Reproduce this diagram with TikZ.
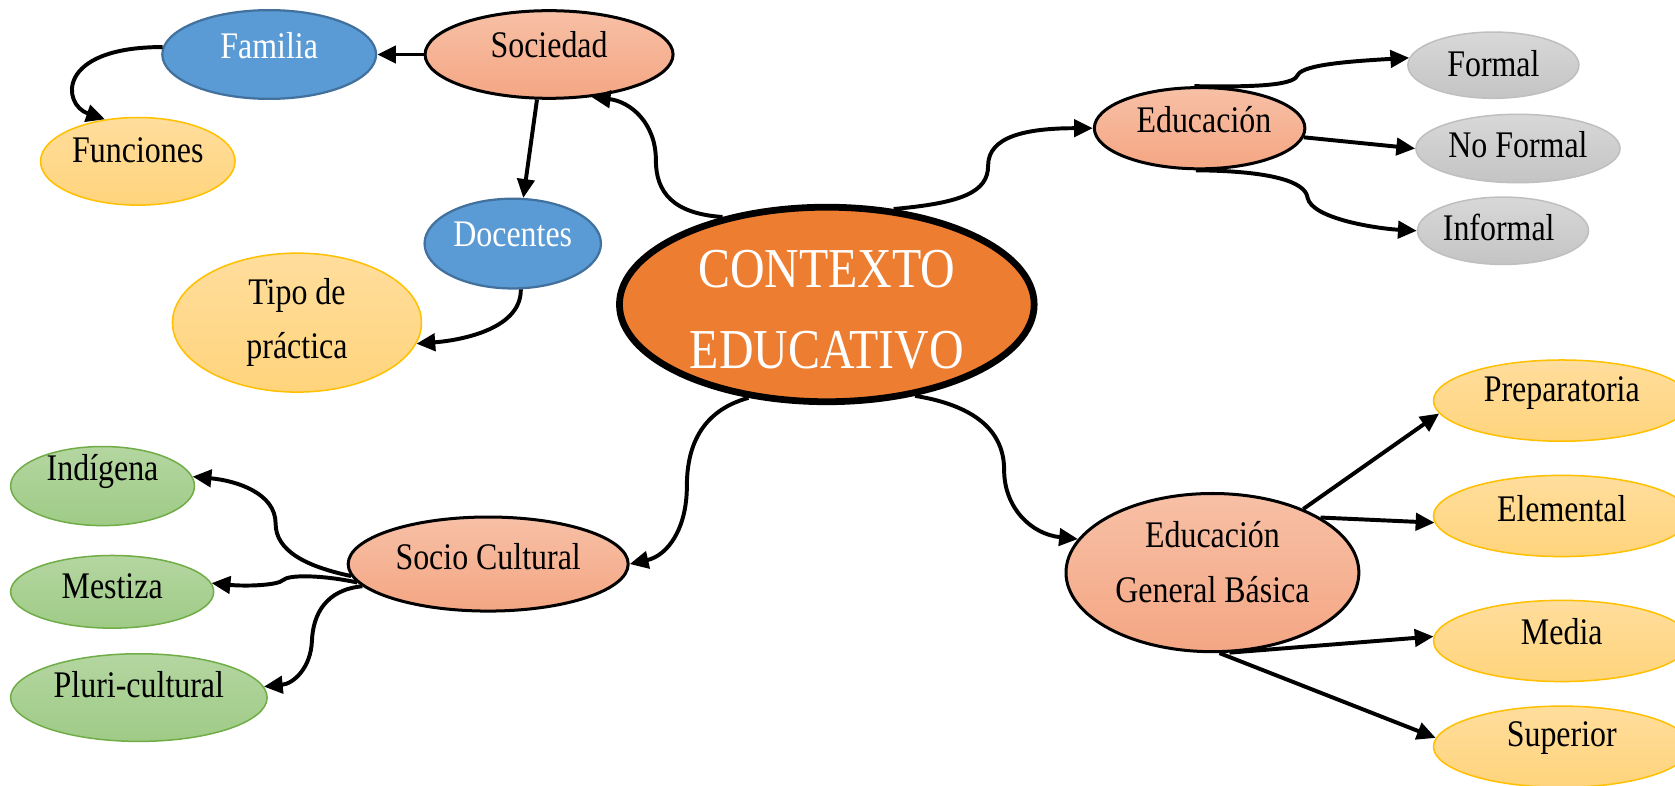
\documentclass[tikz,border=0pt]{standalone}
\usepackage{fontspec}
\setmainfont{Liberation Serif}[FakeStretch=0.85]
\usetikzlibrary{shapes.geometric,arrows.meta}
\definecolor{salTop}{HTML}{F7C0A6}
\definecolor{salBot}{HTML}{F4A683}
\definecolor{yelTop}{HTML}{FFDD9C}
\definecolor{yelBot}{HTML}{FFD47C}
\definecolor{yelLine}{HTML}{FFC000}
\definecolor{gryTop}{HTML}{D8D8D8}
\definecolor{gryBot}{HTML}{C4C4C4}
\definecolor{gryLine}{HTML}{BFBFBF}
\definecolor{grnTop}{HTML}{B4D6A1}
\definecolor{grnBot}{HTML}{9FCB86}
\definecolor{grnLine}{HTML}{70AD47}
\definecolor{bluFill}{HTML}{5B9BD5}
\definecolor{bluLine}{HTML}{41719C}
\definecolor{ctxFill}{HTML}{ED7D31}
\tikzset{
  base/.style={ellipse, inner sep=0pt},
  salm/.style={base, draw=black, line width=0.8pt, top color=salTop, bottom color=salBot},
  yelo/.style={base, draw=yelLine, line width=0.4pt, top color=yelTop, bottom color=yelBot},
  gray/.style={base, draw=gryLine, line width=0.4pt, top color=gryTop, bottom color=gryBot},
  gren/.style={base, draw=grnLine, line width=0.4pt, top color=grnTop, bottom color=grnBot},
  blue/.style={base, draw=bluLine, line width=0.6pt, fill=bluFill},
  ctxn/.style={base, draw=black, line width=1.8pt, fill=ctxFill},
  txt/.style={font=\fontsize{10}{14.5}\selectfont, align=center, text=black, inner sep=0pt},
  wtxt/.style={txt, text=white},
  bigtxt/.style={font=\fontsize{15}{21.6}\selectfont, align=center, text=white, inner sep=0pt},
  conn/.style={line width=1.05pt, -{Triangle[length=5pt,width=4.6pt]}},
}
\begin{document}
\begin{tikzpicture}[x=0.01cm, y=-0.01cm]
\clip (0,0) rectangle (1568,735);
\fill[white] (0,0) rectangle (1568,735);

% nodes
\node[blue, minimum width=2.00cm, minimum height=0.83cm, label={[wtxt,yshift=0.08cm]center:Familia}] (fam) at (252,51) {};
\node[salm, minimum width=2.32cm, minimum height=0.82cm, label={[txt,yshift=0.09cm]center:Sociedad}] (soc) at (514,51) {};
\node[yelo, minimum width=1.82cm, minimum height=0.82cm, label={[txt,yshift=0.10cm]center:Funciones}] (fun) at (129,151) {};
\node[blue, minimum width=1.65cm, minimum height=0.84cm, label={[wtxt,yshift=0.09cm]center:Docentes}] (doc) at (480,228) {};
\node[yelo, minimum width=2.33cm, minimum height=1.30cm, label={[txt,yshift=0.0cm]center:Tipo de\\práctica}] (tip) at (278,302) {};
\node[ctxn, minimum width=3.88cm, minimum height=1.82cm, label={[bigtxt,yshift=-0.05cm]center:CONTEXTO\\EDUCATIVO}] (ctx) at (774,285) {};
\node[salm, minimum width=1.97cm, minimum height=0.76cm, label={[txt,yshift=0.08cm,xshift=0.04cm]center:Educación}] (edu) at (1123,120) {};
\node[gray, minimum width=1.60cm, minimum height=0.62cm, label={[txt,yshift=0.01cm]center:Formal}] (for) at (1398,61) {};
\node[gray, minimum width=1.91cm, minimum height=0.64cm, label={[txt,yshift=0.04cm]center:No Formal}] (nof) at (1421,139) {};
\node[gray, minimum width=1.60cm, minimum height=0.63cm, label={[txt,yshift=0.03cm,xshift=-0.04cm]center:Informal}] (inf) at (1407,216) {};
\node[yelo, minimum width=2.40cm, minimum height=0.76cm, label={[txt,yshift=0.07cm]center:Preparatoria}] (pre) at (1462,375) {};
\node[yelo, minimum width=2.40cm, minimum height=0.76cm, label={[txt,yshift=0.07cm]center:Elemental}] (ele) at (1462,483) {};
\node[yelo, minimum width=2.40cm, minimum height=0.76cm, label={[txt,yshift=0.09cm]center:Media}] (med) at (1462,600) {};
\node[yelo, minimum width=2.40cm, minimum height=0.76cm, label={[txt,yshift=0.08cm]center:Superior}] (sup) at (1462,699) {};
\node[salm, minimum width=2.74cm, minimum height=1.48cm, label={[txt,yshift=0.10cm]center:Educación\\General Básica}] (egb) at (1135,536) {};
\node[salm, minimum width=2.62cm, minimum height=0.88cm, label={[txt,yshift=0.07cm]center:Socio Cultural}] (sc) at (457,528) {};
\node[gren, minimum width=1.72cm, minimum height=0.74cm, label={[txt,yshift=0.14cm]center:Indígena}] (ind) at (96,455) {};
\node[gren, minimum width=1.90cm, minimum height=0.68cm, label={[txt,yshift=0.05cm]center:Mestiza}] (mes) at (105,554) {};
\node[gren, minimum width=2.40cm, minimum height=0.82cm, label={[txt,yshift=0.12cm]center:Pluri-cultural}] (plu) at (130,653) {};

% connectors
\draw[conn] (soc.west) -- (fam.east);
\draw[conn] (fam.176) .. controls (52,44) and (58,98) .. (fun.128);
\draw[conn] (soc.-105) -- (doc.77);
\draw[conn] (doc.-80) .. controls (488,310) and (426,319) .. (tip.-10);
\draw[conn] (ctx.140) .. controls (630,200) and (614,180) .. (614,150) .. controls (614,115) and (590,95) .. (soc.-45);
\draw[conn] (ctx.55) .. controls (900,190) and (925,180) .. (925,155) .. controls (925,128) and (960,120) .. (edu.west);
\draw[conn] (edu.97) .. controls (1190,82) and (1212,78) .. (1215,70) .. controls (1220,60) and (1270,57) .. (for.175);
\draw[conn] (edu.-5) -- (nof.west);
\draw[conn] (edu.-95) .. controls (1190,160) and (1222,170) .. (1224,185) .. controls (1228,205) and (1290,214) .. (inf.west);
\draw[conn] (ctx.-130) .. controls (655,385) and (643,420) .. (643,455) .. controls (643,495) and (625,520) .. (sc.east);
\draw[conn] (ctx.-46) .. controls (915,380) and (940,405) .. (940,440) .. controls (940,475) and (965,500) .. (egb.166);
\draw[conn] (sc.185) .. controls (285,530) and (258,515) .. (258,490) .. controls (258,462) and (222,450) .. (ind.6);
\draw[conn] (sc.188) .. controls (300,538) and (270,538) .. (265,543) .. controls (260,548) and (230,549) .. (mes.5);
\draw[conn] (sc.190) .. controls (305,552) and (293,575) .. (292,600) .. controls (291,625) and (275,640) .. (plu.5);
\draw[conn] (egb.35) -- (pre.-174);
\draw[conn] (egb.27) -- (ele.-177);
\draw[conn] (egb.-78) -- (med.178);
\draw[conn] (egb.-85) -- (sup.176);
\end{tikzpicture}
\end{document}
